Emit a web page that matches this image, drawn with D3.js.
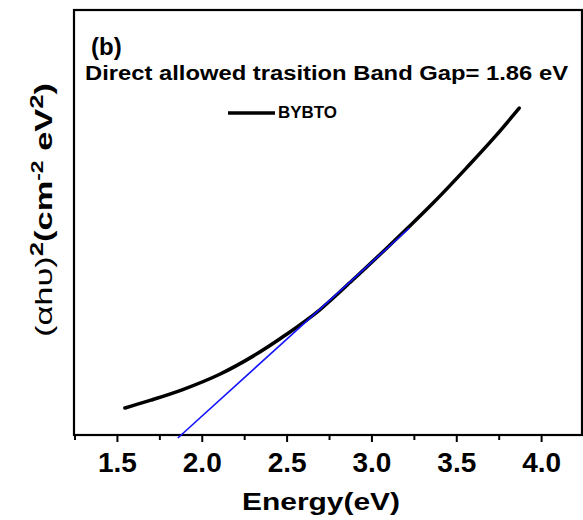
<!DOCTYPE html>
<html>
<head>
<meta charset="utf-8">
<script src="https://cdn.jsdelivr.net/npm/d3@7"></script>
<style>
  body { margin: 0; background: #fff; }
  text { font-family: "Liberation Sans", Arial, sans-serif; font-weight: bold; fill: #000; }
</style>
</head>
<body>
<div id="chart"></div>
<script>
// measured curve (alpha h nu)^2 vs energy, arbitrary units
const energy = [1.547, 1.700, 1.888, 2.106, 2.300, 2.500, 2.694, 2.888, 3.088, 3.224, 3.359, 3.559, 3.735, 3.871];
const absorb = [6.35, 8.2, 10.7, 14.3, 18.5, 23.7, 29.4, 36.4, 43.9, 49.1, 54.4, 62.8, 70.5, 76.9];

// linear fit (Tauc extrapolation)
const fitE = [1.859, 3.224];
const fitY = [-0.7, 48.7];

const majorTicks = [1.5, 2.0, 2.5, 3.0, 3.5, 4.0];
const minorTicks = [1.25, 1.75, 2.25, 2.75, 3.25, 3.75];

const width = 583, height = 520;
const plot = { left: 74, right: 582, top: 10, bottom: 435 };

var svg = d3.select("#chart").append("svg")
    .attr("width", width)
    .attr("height", height);

var x = d3.scaleLinear().domain([1.247, 4.241]).range([plot.left, plot.right]);
var y = d3.scaleLinear().domain([0, 100]).range([plot.bottom, plot.top]);

// frame
svg.append("rect")
    .attr("x", plot.left).attr("y", plot.top)
    .attr("width", plot.right - plot.left)
    .attr("height", plot.bottom - plot.top)
    .style("fill", "none").style("stroke", "#000").style("stroke-width", 2.2);

// bottom axis, major ticks with labels
var xAxis = svg.append("g")
    .attr("transform", "translate(0," + plot.bottom + ")")
    .call(d3.axisBottom(x).tickValues(majorTicks).tickSize(7).tickSizeOuter(0)
        .tickFormat(d3.format(".1f")));
xAxis.select(".domain").remove();
xAxis.selectAll("line").style("stroke", "#000").style("stroke-width", 2);
xAxis.selectAll("text")
    .attr("y", 37).attr("dy", 0)
    .style("font-size", "28px")
    .style("font-family", "'Liberation Sans', Arial, sans-serif")
    .style("font-weight", "bold");

// minor ticks
var xMinor = svg.append("g")
    .attr("transform", "translate(0," + plot.bottom + ")")
    .call(d3.axisBottom(x).tickValues(minorTicks).tickSize(5).tickSizeOuter(0).tickFormat(""));
xMinor.select(".domain").remove();
xMinor.selectAll("line").style("stroke", "#000").style("stroke-width", 2);

// curve
var line = d3.line()
    .x(function (d, i) { return x(energy[i]); })
    .y(function (d) { return y(d); })
    .curve(d3.curveMonotoneX);

svg.append("path")
    .attr("d", line(absorb))
    .style("fill", "none")
    .style("stroke", "#000")
    .style("stroke-width", 3.5)
    .style("stroke-linecap", "round");

// fit line
svg.append("line")
    .attr("x1", x(fitE[0])).attr("y1", y(fitY[0]))
    .attr("x2", x(fitE[1])).attr("y2", y(fitY[1]))
    .style("stroke", "#1414ff")
    .style("stroke-width", 1.6);

// annotations
svg.append("text").attr("x", 91).attr("y", 55)
    .style("font-size", "24px").text("(b)");

svg.append("text").attr("x", 85).attr("y", 80)
    .style("font-size", "20px")
    .attr("textLength", 483).attr("lengthAdjust", "spacingAndGlyphs")
    .text("Direct allowed trasition Band Gap= 1.86 eV");

// legend
svg.append("line")
    .attr("x1", 228).attr("x2", 275).attr("y1", 113).attr("y2", 113)
    .style("stroke", "#000").style("stroke-width", 3.5);
svg.append("text").attr("x", 278).attr("y", 118)
    .style("font-size", "16px")
    .attr("textLength", 59).attr("lengthAdjust", "spacingAndGlyphs")
    .text("BYBTO");

// axis titles
svg.append("text")
    .attr("x", 321).attr("y", 510)
    .attr("text-anchor", "middle")
    .style("font-size", "24px")
    .attr("textLength", 158).attr("lengthAdjust", "spacingAndGlyphs")
    .text("Energy(eV)");

var yTitle = svg.append("text")
    .attr("transform", "translate(52,210) rotate(-90)")
    .attr("text-anchor", "middle")
    .style("font-size", "24px")
    .attr("textLength", 254).attr("lengthAdjust", "spacingAndGlyphs");
yTitle.append("tspan").style("font-weight", "normal").text("(αhυ)");
yTitle.append("tspan").attr("dy", -9).style("font-size", "18px").text("2");
yTitle.append("tspan").attr("dy", 9).text("(cm");
yTitle.append("tspan").attr("dy", -9).style("font-size", "16px").text("-2");
yTitle.append("tspan").attr("dy", 9).text(" eV");
yTitle.append("tspan").attr("dy", -9).style("font-size", "18px").text("2");
yTitle.append("tspan").attr("dy", 9).text(")");
</script>
</body>
</html>
